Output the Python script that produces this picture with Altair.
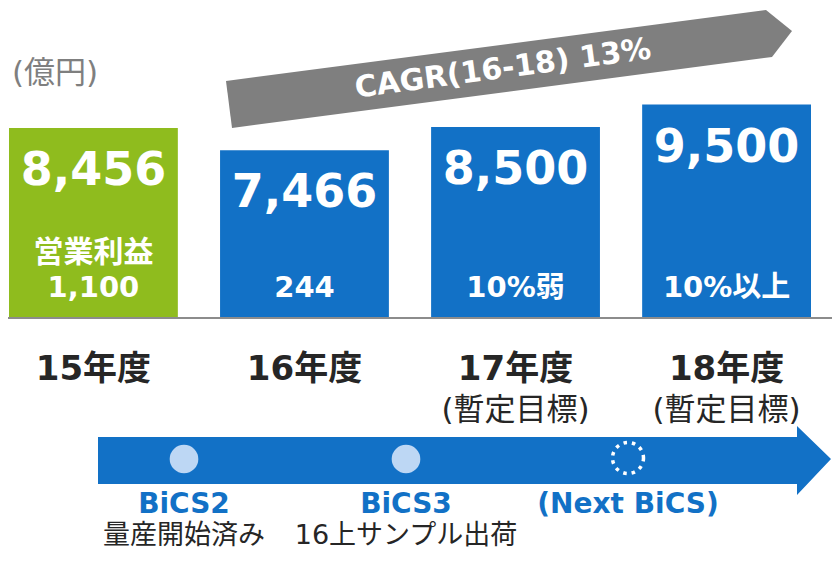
import altair as alt
import pandas as pd

# ---- data ----
years = ["15年度", "16年度", "17年度", "18年度"]
sales = [8456, 7466, 8500, 9500]
sales_labels = ["8,456", "7,466", "8,500", "9,500"]
profit_head = ["営業利益", "", "", ""]
profit_labels = ["1,100", "244", "10%弱", "10%以上"]
year_notes = ["", "", "(暫定目標)", "(暫定目標)"]
bar_colors = ["#8FBC1E", "#1271C6", "#1271C6", "#1271C6"]

milestones = ["BiCS2", "BiCS3", "(Next BiCS)"]
milestone_notes = ["量産開始済み", "16上サンプル出荷", ""]
milestone_done = [True, True, False]
unit_label = "(億円)"
cagr_label = "CAGR(16-18) 13%"

# ---- layout (pixels) ----
MILESTONE_X = [176, 398, 620]
FONT = "DejaVu Sans, Noto Sans CJK JP"
BLUE = "#1271C6"

df = pd.DataFrame({
    "year": years, "sales": sales, "label": sales_labels,
    "head": profit_head, "profit": profit_labels, "note": year_notes,
})
ms = pd.DataFrame({
    "name": milestones, "note": milestone_notes, "done": milestone_done,
    "px": MILESTONE_X,
})

xs = alt.X("year:N", sort=years, axis=None,
           scale=alt.Scale(type="band", range=[1, 803], paddingInner=0.2, paddingOuter=0))
ys = alt.Y("sales:Q", axis=None,
           scale=alt.Scale(domain=[0, 10000], range=[310, 85.3]))

base = alt.Chart(df)

bars = base.mark_bar().encode(
    x=xs, y=ys,
    color=alt.Color("year:N", scale=alt.Scale(domain=years, range=bar_colors), legend=None),
)
val_text = base.mark_text(font=FONT, fontSize=46, fontWeight="bold", color="white",
                          baseline="alphabetic", dy=57).encode(x=xs, y=ys, text="label:N")
head_text = base.mark_text(font=FONT, fontSize=30, fontWeight="bold", color="white",
                           baseline="alphabetic").encode(x=xs, y=alt.value(254), text="head:N")
profit_text = base.mark_text(font=FONT, fontSize=29, fontWeight="bold", color="white",
                             baseline="alphabetic").encode(x=xs, y=alt.value(289), text="profit:N")
year_text = base.mark_text(font=FONT, fontSize=34, fontWeight="bold", color="#262626",
                           baseline="alphabetic").encode(x=xs, y=alt.value(372), text="year:N")
note_text = base.mark_text(font=FONT, fontSize=31, color="#262626",
                           baseline="alphabetic").encode(x=xs, y=alt.value(412), text="note:N")

baseline_rule = base.mark_rule(color="#8C8C8C", strokeWidth=2).encode(
    x=alt.value(0), x2=alt.value(824), y=alt.value(310))

one = alt.Chart(pd.DataFrame({"k": [0]}))

unit_text = one.mark_text(font=FONT, fontSize=31, color="#7F7F7F", align="left",
                          baseline="alphabetic", text=unit_label).encode(
    x=alt.value(4), y=alt.value(75))

cagr_arrow = one.mark_point(
    shape="M218,73L758,2L784,23L764,49L224,120Z", size=4, filled=True,
    color="#7F7F7F", opacity=1, strokeWidth=0).encode(x=alt.value(0), y=alt.value(0))
cagr_text = one.mark_text(font=FONT, fontSize=30, fontWeight="bold", color="white",
                          angle=352.4, baseline="middle", text=cagr_label).encode(
    x=alt.value(495), y=alt.value(61))

time_arrow = one.mark_point(
    shape="M90,429L789,429L789,418L823,451L789,487L789,476L90,476Z", size=4, filled=True,
    color=BLUE, opacity=1, strokeWidth=0).encode(x=alt.value(0), y=alt.value(0))

msb = alt.Chart(ms)
mx = alt.X("px:Q", scale=None, axis=None)
dots_done = msb.transform_filter("datum.done").mark_point(
    shape="circle", size=820, filled=True, color="#BDD7F4", opacity=1, strokeWidth=0
).encode(x=mx, y=alt.value(451))
dots_next = msb.transform_filter("!datum.done").mark_point(
    shape="circle", size=960, filled=False, color="white", opacity=1,
    strokeWidth=3.5, strokeDash=[3.5, 5]
).encode(x=mx, y=alt.value(450))
ms_text = msb.mark_text(font=FONT, fontSize=28, fontWeight="bold", color=BLUE,
                        baseline="alphabetic").encode(x=mx, y=alt.value(505), text="name:N")
ms_note = msb.mark_text(font=FONT, fontSize=27, color="#262626",
                        baseline="alphabetic").encode(x=mx, y=alt.value(536), text="note:N")

chart = alt.layer(
    bars, val_text, head_text, profit_text, baseline_rule, year_text, note_text,
    unit_text, cagr_arrow, cagr_text, time_arrow, dots_done, dots_next, ms_text, ms_note,
).resolve_scale(x="independent", y="independent").properties(
    width=824, height=544, padding=0, background="white",
    autosize=alt.AutoSizeParams(type="none"),
).configure_view(stroke=None)

chart.save("out.html", embed_options={"renderer": "svg", "actions": False})
